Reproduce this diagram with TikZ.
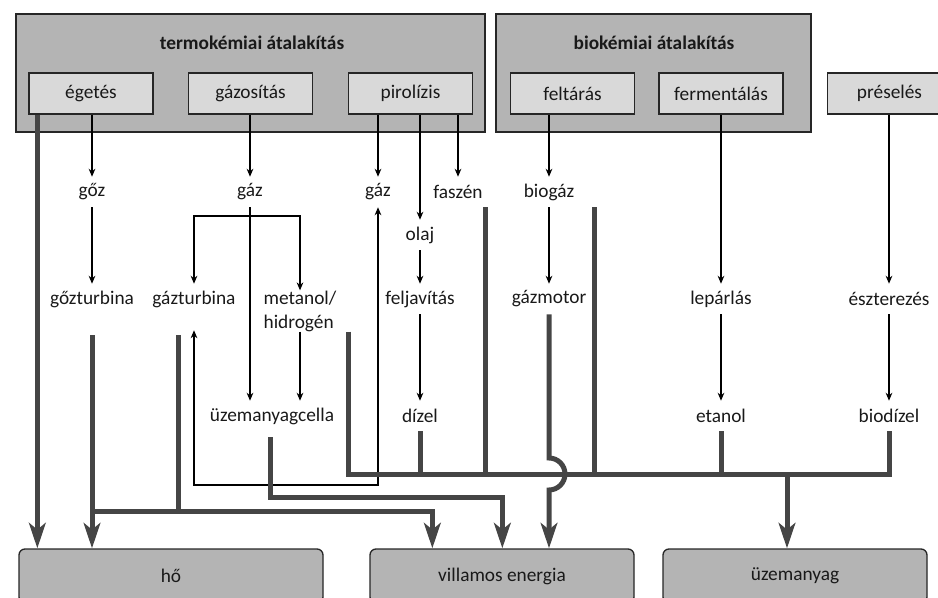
\documentclass[tikz,border=0pt]{standalone}
\usepackage{fontspec}
\setmainfont{Carlito}
\usetikzlibrary{arrows.meta,calc,fit}
\definecolor{groupgray}{HTML}{B4B4B4}
\definecolor{procgray}{HTML}{D9D9D9}
\definecolor{heavygray}{HTML}{454545}
\tikzset{
  groupbox/.style={draw=black!85, fill=groupgray, line width=1pt, inner sep=0pt},
  grouptitle/.style={font=\fontsize{14.5}{18}\selectfont\bfseries},
  procbox/.style={draw=black!85, fill=procgray, line width=1pt, inner sep=0pt,
    minimum width=93pt, minimum height=30.75pt},
  endbox/.style={draw=black!85, fill=groupgray, line width=1pt, rounded corners=4.5pt,
    minimum height=40.5pt},
  lbl/.style={inner sep=0pt, minimum height=22.5pt},
  thinarr/.style={line width=0.9pt, -{Stealth[length=6pt,width=5pt]}},
  thinboth/.style={line width=0.9pt, {Stealth[length=6pt,width=5pt]}-{Stealth[length=6pt,width=5pt]}},
  heavy/.style={draw=heavygray, line width=3.75pt},
  heavyarr/.style={heavy, -{Stealth[length=19pt,width=12.5pt,inset=5pt]}},
}
\begin{document}
\begin{tikzpicture}[x=0.75pt, y=-0.75pt, font=\fontsize{14.5}{18}\selectfont, text=black!90]
\useasboundingbox (0,0) rectangle (938,598);

% conversion groups
\node[groupbox, fit={(16,14) (485,132)}] (termo) {};
\node[groupbox, fit={(496,14) (811,132)}] (bio) {};
\node[grouptitle] (termotitle) at (252,43) {termokémiai átalakítás};
\node[grouptitle] (biotitle) at (654,43) {biokémiai átalakítás};

\node[procbox] (egetes) at (91,93.5) {égetés};
\node[procbox] (gazositas) at (250.5,93.5) {gázosítás};
\node[procbox] (pirolizis) at (410.5,93.5) {pirolízis};
\node[procbox] (feltaras) at (572.5,93.5) {feltárás};
\node[procbox] (fermentalas) at (721,93.5) {fermentálás};
\node[procbox] (preseles) at (889.5,93.5) {préselés};

% intermediate products
\node[lbl] (goz) at (92,192) {gőz};
\node[lbl] (gaz1) at (250,192) {gáz};
\node[lbl] (gaz2) at (378,192) {gáz};
\node[lbl] (faszen) at (458,192) {faszén};
\node[lbl] (biogaz) at (549,192) {biogáz};
\node[lbl] (olaj) at (420,235) {olaj};
\node[lbl] (gozturbina) at (92,299) {gőzturbina};
\node[lbl] (gazturbina) at (194,299) {gázturbina};
\node[lbl, align=left] (metanol) at (300,311) {metanol/\\hidrogén};
\node[lbl] (feljavitas) at (420,299) {feljavítás};
\node[lbl] (gazmotor) at (549,299) {gázmotor};
\node[lbl] (leparlas) at (721,299) {lepárlás};
\node[lbl] (eszterezes) at (889,299) {észterezés};
\node[lbl] (uzemanyagcella) at (272,416) {üzemanyagcella};
\node[lbl] (dizel) at (420,416) {dízel};
\node[lbl] (etanol) at (721,416) {etanol};
\node[lbl] (biodizel) at (889,416) {biodízel};

% end uses
\node[endbox, minimum width=228pt] (ho) at (171,576) {hő};
\node[endbox, minimum width=198pt] (villamos) at (502,576) {villamos energia};
\node[endbox, minimum width=198pt] (uzemanyag) at (795,576) {üzemanyag};

% thin arrows
\draw[thinarr] (goz.north |- egetes.south) -- (goz.north);
\draw[thinarr] (gaz1.north |- gazositas.south) -- (gaz1.north);
\draw[thinarr] (gaz2.north |- pirolizis.south) -- (gaz2.north);
\draw[thinarr] (olaj.north |- pirolizis.south) -- (olaj.north);
\draw[thinarr] (faszen.north |- pirolizis.south) -- (faszen.north);
\draw[thinarr] (biogaz.north |- feltaras.south) -- (biogaz.north);
\draw[thinarr] (fermentalas.south) -- (leparlas.north);
\draw[thinarr] (eszterezes.north |- preseles.south) -- (eszterezes.north);
\draw[thinarr] (goz.south) -- (gozturbina.north);
\draw[thinarr] (gaz1.south) -- (gaz1.south |- uzemanyagcella.north);
\coordinate (gsplit) at (250,216);
\draw[thinboth] (gazturbina.north) |- (gsplit) -| (metanol.north);
\draw[thinarr] (metanol.south) -- (metanol.south |- uzemanyagcella.north);
\draw[thinarr] (olaj.south) -- (feljavitas.north);
\draw[thinarr] (feljavitas.south) -- (dizel.north);
\draw[thinarr] (biogaz.south) -- (gazmotor.north);
\draw[thinarr] (leparlas.south) -- (etanol.north);
\draw[thinarr] (eszterezes.south) -- (biodizel.north);
\coordinate (loop) at (194,485);
\draw[thinboth] (gaz2.south) |- (loop) -- ($(gazturbina.south)+(0,16)$);

% heavy flows
\coordinate (e1) at ($(egetes.south west)+(9,0)$);
\draw[heavyarr] (e1) -- (e1 |- ho.north);
\draw[heavyarr] ($(gozturbina.south)+(0,21)$) -- (gozturbina.south |- ho.north);
\coordinate (hbus) at (92,511);
\coordinate (v1) at ($(villamos.north west)+(63,0)$);
\coordinate (v2) at ($(villamos.north west)+(133,0)$);
\draw[heavy] ($(gazturbina.south)+(-16,21)$) |- (hbus);
\draw[heavyarr] (hbus) -| (v1);
\draw[heavyarr] ($(uzemanyagcella.south)+(-2,6)$) -- ++(0,60) -| (v2);
\coordinate (fb1) at (348,474);
\coordinate (fb2) at (889,474);
\draw[heavy] (fb1 |- metanol.south) -- (fb1) -- (fb2) -- (biodizel.south);
\draw[heavy] (dizel.south) -- (dizel.south |- fb1);
\coordinate (f1) at ($(faszen.south)+(27,0)$);
\draw[heavy] (f1) -- (f1 |- fb1);
\coordinate (b1) at ($(biogaz.south)+(45,0)$);
\draw[heavy] (b1) -- (b1 |- fb1);
\draw[heavy] (etanol.south) -- (etanol.south |- fb1);
\coordinate (u1) at ($(uzemanyag.north)+(-8,0)$);
\draw[heavyarr] (u1 |- fb1) -- (u1);
\coordinate (jmp) at (gazmotor.south |- fb1);
\draw[heavyarr] (gazmotor.south) -- ($(jmp)+(0,-16)$)
  arc[start angle=-90, end angle=90, radius=16] -- (gazmotor.south |- villamos.north);
\end{tikzpicture}
\end{document}
